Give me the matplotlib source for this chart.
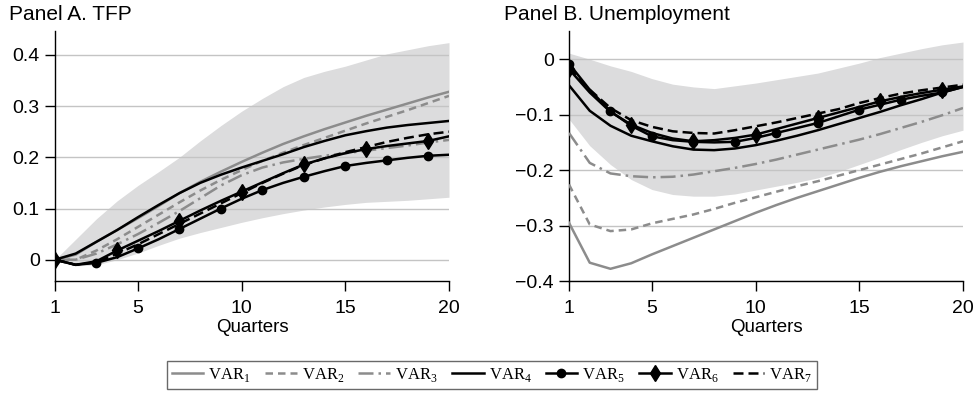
import numpy as np
import matplotlib
matplotlib.use("Agg")
import matplotlib.pyplot as plt
from matplotlib.lines import Line2D

plt.rcParams['font.family'] = ['Liberation Sans', 'DejaVu Sans']
plt.rcParams['mathtext.fontset'] = 'custom'
plt.rcParams['mathtext.rm'] = 'Liberation Serif'

quarters = np.arange(1, 21)

# Panel A: TFP
tfp_upper = [0.0, 0.04, 0.08, 0.115, 0.145, 0.172, 0.2, 0.232, 0.262, 0.29, 0.315, 0.338, 0.356, 0.368, 0.378, 0.39, 0.402, 0.41, 0.418, 0.424]
tfp_lower = [0.0, -0.012, -0.01, 0.0, 0.013, 0.028, 0.042, 0.053, 0.063, 0.073, 0.082, 0.09, 0.097, 0.103, 0.108, 0.112, 0.114, 0.116, 0.119, 0.122]
tfp_var1 = [0.0, 0.01, 0.035, 0.058, 0.081, 0.105, 0.13, 0.152, 0.172, 0.191, 0.209, 0.226, 0.241, 0.255, 0.268, 0.281, 0.293, 0.305, 0.317, 0.328]
tfp_var2 = [0.0, 0.0, 0.018, 0.04, 0.064, 0.088, 0.112, 0.135, 0.156, 0.175, 0.193, 0.209, 0.224, 0.238, 0.252, 0.266, 0.279, 0.292, 0.306, 0.32]
tfp_var3 = [0.0, 0.0, 0.012, 0.03, 0.05, 0.072, 0.095, 0.12, 0.145, 0.165, 0.18, 0.19, 0.197, 0.203, 0.208, 0.213, 0.218, 0.223, 0.229, 0.234]
tfp_var4 = [0.0, 0.012, 0.035, 0.058, 0.083, 0.107, 0.13, 0.15, 0.166, 0.18, 0.193, 0.206, 0.22, 0.232, 0.243, 0.251, 0.258, 0.263, 0.267, 0.271]
tfp_var5 = [0.0, -0.01, -0.006, 0.005, 0.022, 0.04, 0.06, 0.08, 0.1, 0.119, 0.136, 0.15, 0.162, 0.173, 0.183, 0.189, 0.194, 0.199, 0.203, 0.205]
tfp_var6 = [0.0, -0.01, -0.003, 0.018, 0.037, 0.056, 0.076, 0.096, 0.115, 0.133, 0.151, 0.169, 0.186, 0.198, 0.208, 0.216, 0.222, 0.227, 0.232, 0.241]
tfp_var7 = [0.0, -0.01, -0.005, 0.012, 0.03, 0.05, 0.07, 0.09, 0.11, 0.13, 0.15, 0.168, 0.185, 0.198, 0.21, 0.22, 0.23, 0.238, 0.245, 0.25]

# Panel B: Unemployment
un_upper = [0.011, 0.0, -0.012, -0.022, -0.035, -0.045, -0.05, -0.053, -0.048, -0.043, -0.037, -0.031, -0.025, -0.016, -0.007, 0.003, 0.011, 0.019, 0.026, 0.031]
un_lower = [-0.108, -0.156, -0.19, -0.217, -0.235, -0.244, -0.247, -0.247, -0.243, -0.236, -0.229, -0.222, -0.214, -0.203, -0.19, -0.177, -0.163, -0.15, -0.138, -0.128]
un_var1 = [-0.295, -0.367, -0.378, -0.368, -0.352, -0.337, -0.322, -0.307, -0.292, -0.277, -0.263, -0.25, -0.238, -0.226, -0.214, -0.203, -0.193, -0.184, -0.175, -0.167]
un_var2 = [-0.226, -0.298, -0.31, -0.307, -0.296, -0.288, -0.28, -0.27, -0.259, -0.249, -0.239, -0.229, -0.22, -0.21, -0.2, -0.19, -0.18, -0.17, -0.159, -0.148]
un_var3 = [-0.133, -0.187, -0.206, -0.211, -0.213, -0.212, -0.208, -0.202, -0.196, -0.189, -0.181, -0.172, -0.163, -0.154, -0.145, -0.135, -0.124, -0.113, -0.101, -0.088]
un_var4 = [-0.047, -0.093, -0.12, -0.138, -0.148, -0.157, -0.163, -0.164, -0.161, -0.155, -0.147, -0.138, -0.128, -0.117, -0.106, -0.095, -0.083, -0.072, -0.06, -0.05]
un_var5 = [-0.008, -0.055, -0.094, -0.12, -0.139, -0.146, -0.149, -0.15, -0.149, -0.142, -0.133, -0.124, -0.115, -0.103, -0.091, -0.082, -0.073, -0.066, -0.06, -0.05]
un_var6 = [-0.018, -0.06, -0.095, -0.118, -0.133, -0.143, -0.148, -0.146, -0.142, -0.136, -0.126, -0.116, -0.106, -0.096, -0.086, -0.076, -0.068, -0.061, -0.055, -0.049]
un_var7 = [-0.015, -0.055, -0.088, -0.11, -0.122, -0.13, -0.133, -0.134, -0.128, -0.121, -0.114, -0.106, -0.098, -0.09, -0.079, -0.07, -0.062, -0.056, -0.051, -0.046]

labels = [r'VAR$_\mathrm{1}$', r'VAR$_\mathrm{2}$', r'VAR$_\mathrm{3}$', r'VAR$_\mathrm{4}$',
          r'VAR$_\mathrm{5}$', r'VAR$_\mathrm{6}$', r'VAR$_\mathrm{7}$']
xticks = [1, 5, 10, 15, 20]

GRAY = '#8c8c8c'
BAND = '#dcdcdd'
styles = [
    dict(color=GRAY, lw=1.8, ls='-'),
    dict(color=GRAY, lw=1.8, ls=(0, (3, 2))),
    dict(color=GRAY, lw=1.8, ls=(0, (6, 2, 1, 2))),
    dict(color='black', lw=1.8, ls='-'),
    dict(color='black', lw=1.8, ls='-', marker='o', markersize=6, markevery=slice(0, None, 2)),
    dict(color='black', lw=1.8, ls='-', marker='d', markersize=8, markevery=slice(0, None, 3)),
    dict(color='black', lw=1.8, ls=(0, (4, 2))),
]

fig = plt.figure(figsize=(9.76, 3.97), dpi=100)
axA = fig.add_axes([55/976, 1-281/397, (449-55)/976, (281-31)/397])
axB = fig.add_axes([569/976, 1-281/397, (963-569)/976, (281-31)/397])


def draw(ax, upper, lower, series, yticks, ylim, ticklabels, title, title_x):
    ax.fill_between(quarters, lower, upper, color=BAND, lw=0, zorder=1)
    for yt in yticks:
        ax.axhline(yt, color='#c4c4c4', lw=1.0, zorder=1.5)
    for s, st in zip(series, styles):
        ax.plot(quarters, s, zorder=3, **st)
    ax.set_xlim(1, 20)
    ax.set_ylim(*ylim)
    ax.set_xticks(xticks)
    ax.set_yticks(yticks)
    ax.set_yticklabels(ticklabels)
    for sp in ['top', 'right']:
        ax.spines[sp].set_visible(False)
    for sp in ['left', 'bottom']:
        ax.spines[sp].set_linewidth(1.0)
    ax.tick_params(axis='x', direction='out', length=7.5, width=1.0, labelsize=14, pad=6)
    ax.tick_params(axis='y', direction='out', length=7.5, width=1.0, labelsize=14, pad=3.5)
    ax.set_xlabel('Quarters', fontsize=13.5, labelpad=1.5)
    fig.text(title_x / 976, 1 - 14 / 397, title, fontsize=15, ha='left', va='center')


draw(axA, tfp_upper, tfp_lower,
     [tfp_var1, tfp_var2, tfp_var3, tfp_var4, tfp_var5, tfp_var6, tfp_var7],
     [0, 0.1, 0.2, 0.3, 0.4], (-0.0416, 0.4467),
     ['0', '0.1', '0.2', '0.3', '0.4'], 'Panel A. TFP', 9)
draw(axB, un_upper, un_lower,
     [un_var1, un_var2, un_var3, un_var4, un_var5, un_var6, un_var7],
     [0, -0.1, -0.2, -0.3, -0.4], (-0.4, 0.0509),
     ['0', '\u22120.1', '\u22120.2', '\u22120.3', '\u22120.4'], 'Panel B. Unemployment', 504)

handles = []
for st in styles:
    st2 = dict(st)
    st2.pop('markevery', None)
    handles.append(Line2D([], [], **st2))
leg = fig.legend(handles, labels, loc='center', bbox_to_anchor=(492/976, 1-375/397),
                 ncol=7, frameon=True, fancybox=False, shadow=False,
                 prop={'family': 'Liberation Serif', 'size': 12},
                 handlelength=1.9, handletextpad=0.3, columnspacing=0.85,
                 borderpad=0.3, borderaxespad=0)
leg.get_frame().set_edgecolor('#444444')
leg.get_frame().set_linewidth(1.0)

fig.savefig('out.png', dpi=100)
